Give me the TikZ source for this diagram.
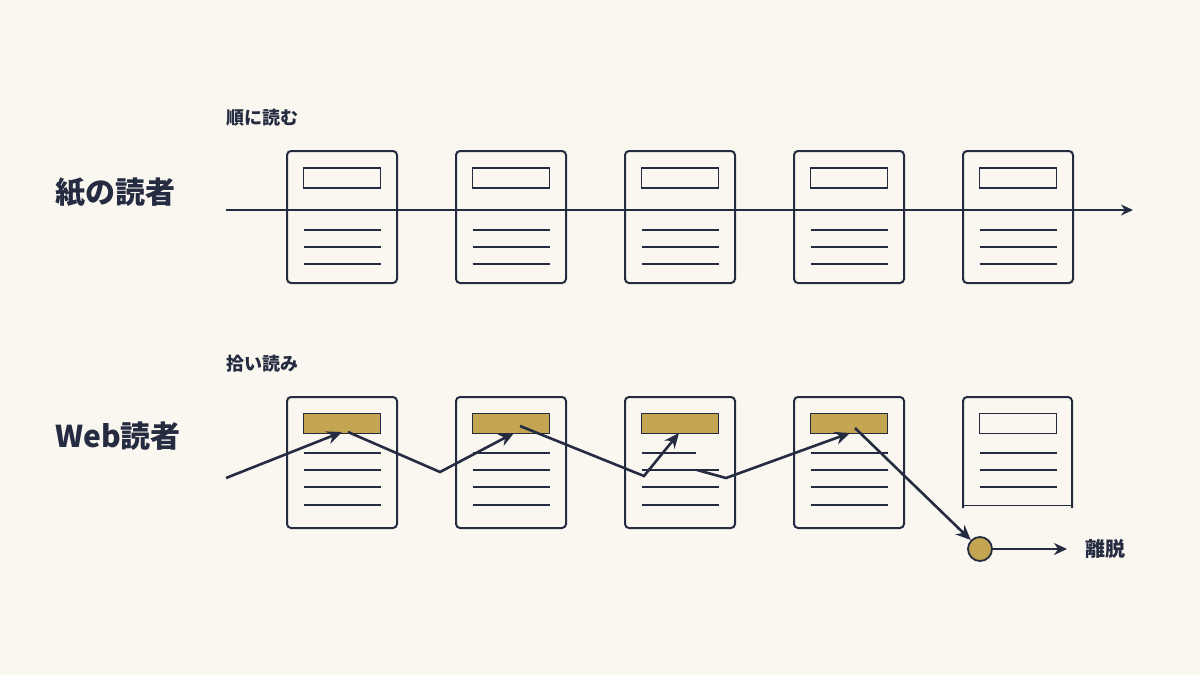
\documentclass[tikz,border=0pt]{standalone}
\usepackage{fontspec}
\setmainfont{Noto Sans CJK JP}
\usepackage{xcolor}
\usetikzlibrary{arrows.meta}
\definecolor{bg}{HTML}{FAF7F1}
\definecolor{ink}{HTML}{252B40}
\definecolor{gold}{HTML}{C4A552}

\begin{document}
\begin{tikzpicture}[x=1pt, y=-1pt, >={Stealth[length=15pt, width=13pt]},
    doc/.style={rectangle, draw=ink, line width=2pt, rounded corners=4pt, fill=bg, minimum width=110pt, minimum height=132pt, inner sep=0},
    hdr/.style={rectangle, draw=ink, line width=1.8pt, minimum width=77pt, minimum height=20pt, inner sep=0},
    txt/.style={draw=ink, line width=1.8pt},
    flow/.style={->, draw=ink, line width=2.6pt},
    lbl/.style={anchor=west, inner sep=0, text=ink, font=\bfseries\fontsize{18}{22}\selectfont},
    big/.style={anchor=west, inner sep=0, text=ink, font=\bfseries\fontsize{30}{36}\selectfont}]
    \fill[bg] (0,0) rectangle (1200,675);
    \useasboundingbox (0,0) rectangle (1200,675);

    % Paper reader
    \node[lbl] (seq) at (226,118) {順に読む};
    \node[big] (paper) at (55,193) {紙の読者};
    \foreach \i in {1,...,5} {
        \pgfmathsetmacro\cx{342+169*(\i-1)}
        \node[doc] (p\i) at (\cx,217) {};
        \node[hdr] (ph\i) at (\cx,178) {};
        \foreach \ly in {230,247,264}
            \draw[txt] (\cx-38.5,\ly) -- (\cx+38.5,\ly);
    }
    \coordinate (s1) at (226,210);
    \coordinate (e1) at (1133,210);
    \draw[->, draw=ink, line width=2.2pt, >={Stealth[length=12pt, width=11pt]}] (s1) -- (e1);

    % Web reader
    \node[lbl] (skim) at (226,364) {拾い読み};
    \node[big] (web) at (55,436) {Web読者};
    \foreach \i in {1,...,4} {
        \pgfmathsetmacro\cx{342+169*(\i-1)}
        \node[doc, minimum height=131pt] (q\i) at (\cx,462.5) {};
        \node[hdr, fill=gold] (qh\i) at (\cx,423.5) {};
        \ifnum\i=3
            \draw[txt] (\cx-38.5,453) -- (\cx+16,453);
        \else
            \draw[txt] (\cx-38.5,453) -- (\cx+38.5,453);
        \fi
        \foreach \ly in {470,487,505}
            \draw[txt] (\cx-38.5,\ly) -- (\cx+38.5,\ly);
    }
    % last page, not reached
    \draw[ink, line width=2pt, rounded corners=4pt, fill=bg] (963,508) -- (963,397) -- (1072,397) -- (1072,508);
    \draw[ink, line width=1pt] (963,505) -- (1072,505);
    \node[hdr, fill=bg] (qh5) at (1018,423.5) {};
    \foreach \ly in {453,470,487}
        \draw[txt] (1018-38.5,\ly) -- (1018+38.5,\ly);

    % skimming path
    \coordinate (w0) at (226,478);
    \coordinate (t1) at (342,432);
    \coordinate (a1) at (348,432);
    \coordinate (v1) at (440,472);
    \coordinate (t2) at (514,433);
    \coordinate (a2) at (520,426);
    \coordinate (v2) at (644,476);
    \coordinate (t3) at (679,433);
    \coordinate (a3) at (697,470);
    \coordinate (v3) at (726,478);
    \coordinate (t4) at (850,433);
    \coordinate (a4) at (855,428);
    \node[circle, draw=ink, line width=1.8pt, fill=gold, minimum size=24pt, inner sep=0] (dot) at (980,549) {};
    \node[lbl, font=\bfseries\fontsize{20}{24}\selectfont] (leave) at (1085,549) {離脱};
    \coordinate (e2) at (1067,549);

    \draw[flow] (w0) -- (t1);
    \draw[flow] (a1) -- (v1) -- (t2);
    \draw[flow] (a2) -- (v2) -- (t3);
    \draw[flow] (a3) -- (v3) -- (t4);
    \draw[flow] (a4) -- (dot);
    \draw[->, draw=ink, line width=2.2pt, >={Stealth[length=13pt, width=12pt]}] (dot) -- (e2);
\end{tikzpicture}
\end{document}
